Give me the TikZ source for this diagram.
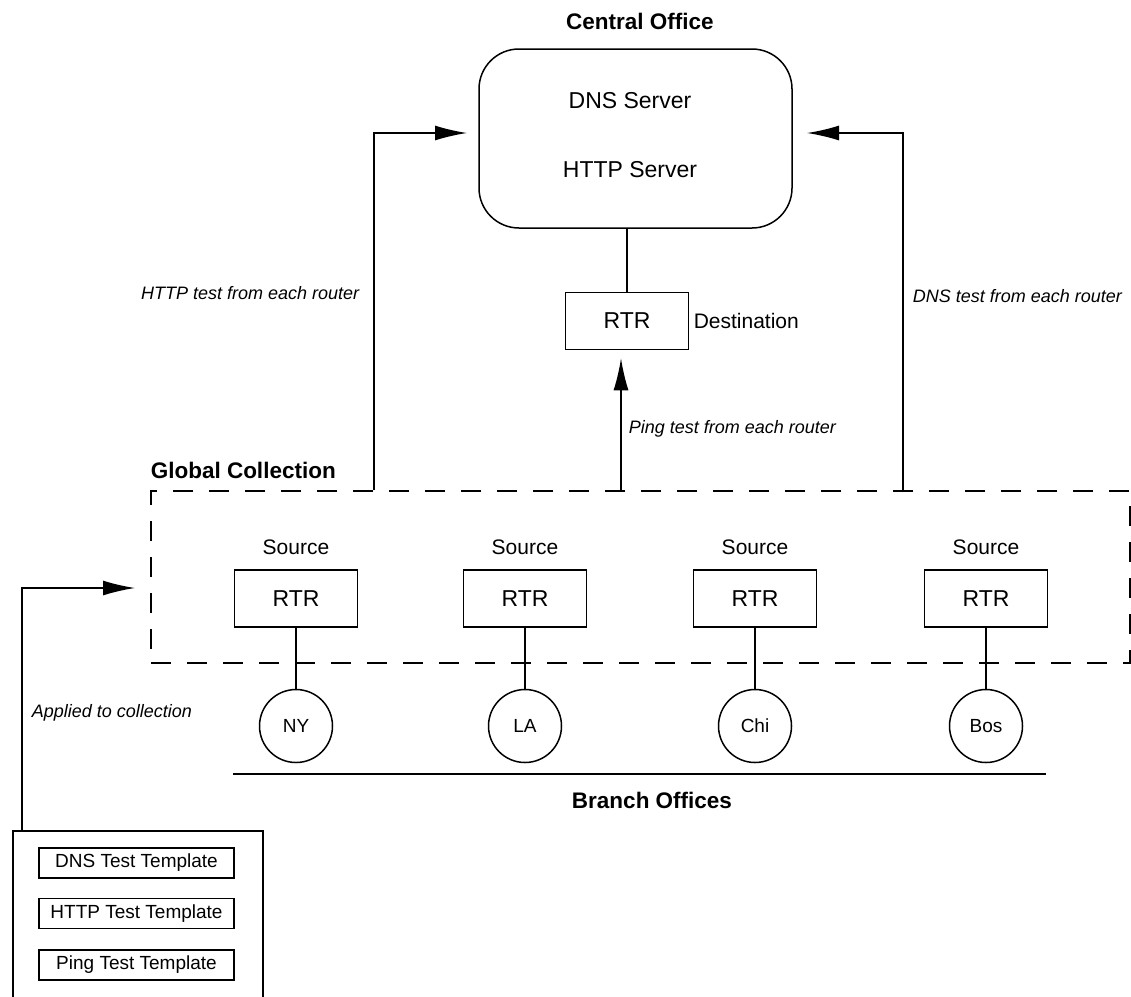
\documentclass[tikz,border=0pt]{standalone}
\usepackage{fontspec}
\setmainfont{Liberation Sans}
\usetikzlibrary{arrows.meta,calc}
\begin{document}
\begin{tikzpicture}[x=1pt,y=-1pt,line width=1.5pt,
  lbl/.style={inner sep=0pt,font=\fontsize{21}{25}\selectfont},
  ital/.style={inner sep=0pt,font=\fontsize{18}{22}\selectfont\itshape},
  ttl/.style={inner sep=0pt,font=\fontsize{22.5}{26}\selectfont\bfseries},
  rtr/.style={draw,minimum width=123pt,minimum height=57pt,inner sep=0pt,font=\fontsize{23}{27}\selectfont},
  site/.style={draw,circle,minimum size=73pt,inner sep=0pt,font=\fontsize{19}{23}\selectfont},
  tmpl/.style={draw,minimum width=195pt,minimum height=30pt,inner sep=0pt,font=\fontsize{19}{22}\selectfont},
  arr/.style={-{Latex[length=32pt,width=15pt]}},
  link/.style={line width=1.5pt}]
\useasboundingbox (0,0) rectangle (1131,996);
\clip (0,0) rectangle (1131,996);

% Central office
\node[ttl] (cotitle) at (640,21) {Central Office};
\node[draw,rounded corners=40pt,minimum width=313pt,minimum height=179pt,inner sep=0pt] (server) at (635.5,138.5) {};
\node[lbl,font=\fontsize{23}{27}\selectfont] (dns) at (630,101) {DNS Server};
\node[lbl,font=\fontsize{23}{27}\selectfont] (http) at (630,170) {HTTP Server};

% destination router
\node[rtr] (dest) at (627,321) {RTR};
\node[lbl,anchor=west] (destlbl) at (693,321) {Destination};
\draw[link] (dest.north) -- (dest.north |- server.south);

% global collection
\node[ttl,anchor=west] (gctitle) at (150,470) {Global Collection};
\node[draw,dash pattern=on 20pt off 16pt,minimum width=979pt,minimum height=172pt,inner sep=0pt] (coll) at (640.5,577) {};

% source routers
\foreach \nm/\xx/\city in {ny/296/NY,la/525/LA,chi/755/Chi,bos/986/Bos}{
  \node[lbl] (src\nm) at (\xx,547) {Source};
  \node[rtr] (rtr\nm) at (\xx,598.5) {RTR};
  \node[site] (site\nm) at (\xx,726) {\city};
  \draw[link] (rtr\nm.south) -- (site\nm.north);
}

% branch offices
\coordinate (bl) at (233,774);
\coordinate (br) at (1046,774);
\draw[link] (bl) -- (br);
\node[ttl] (botitle) at (652,800) {Branch Offices};

% arrows to central office
\coordinate (httpIn) at (467,133);
\coordinate (dnsIn) at (807,133);
\draw[arr] (374,0 |- coll.north) |- (httpIn);
\draw[arr] (903,0 |- coll.north) |- (dnsIn);
\draw[arr,shorten >=8pt] (621,0 |- coll.north) -- (621,0 |- dest.south);
\node[ital,anchor=east] (httplbl) at (360,293) {HTTP test from each router};
\node[ital,anchor=west] (dnslbl) at (912,296) {DNS test from each router};
\node[ital,anchor=west] (pinglbl) at (628,429) {Ping test from each router};

% templates
\node[draw,anchor=north west,minimum width=250pt,minimum height=200pt,inner sep=0pt] (tpl) at (12,830) {};
\node[tmpl] (tdns) at (136.5,863) {DNS Test Template};
\node[tmpl] (thttp) at (136.5,913.5) {HTTP Test Template};
\node[tmpl] (tping) at (136.5,965) {Ping Test Template};
\coordinate (applyIn) at (135,588);
\draw[arr] ([xshift=10pt]tpl.north west) |- (applyIn);
\node[ital,anchor=west] (applbl) at (31,713) {Applied to collection};
\end{tikzpicture}
\end{document}
